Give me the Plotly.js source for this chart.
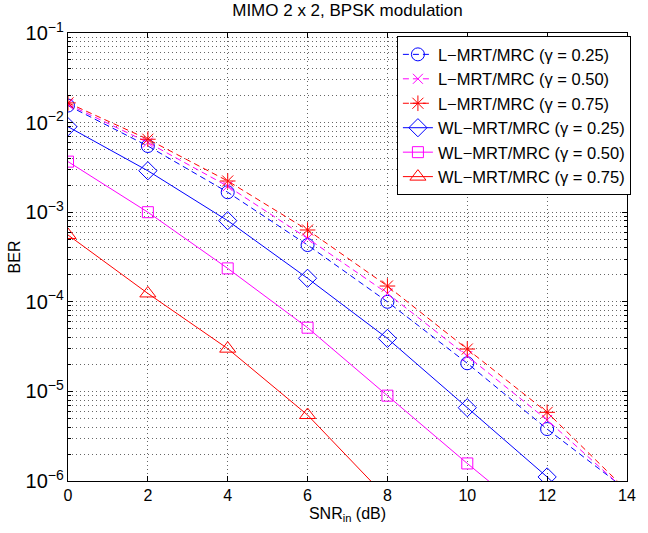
<!DOCTYPE html>
<html>
<head>
<meta charset="utf-8">
<script src="https://cdn.plot.ly/plotly-3.0.1.min.js"></script>
<style>html,body{margin:0;padding:0;background:#fff;}#chart{width:648px;height:533px;}</style>
</head>
<body>
<div id="chart"></div>
<script>
// SNR_in (dB)
var snr = [0, 2, 4, 6, 8, 10, 12, 14];
// BER values (last points fall below the visible range)
var L025  = [1.55e-2, 5.48e-3, 1.67e-3, 4.3e-4, 1.0e-4, 2.06e-5, 3.8e-6, 7.9e-7];
var L050  = [1.60e-2, 6.0e-3, 1.95e-3, 5.1e-4, 1.24e-4, 2.48e-5, 4.8e-6, 7.6e-7];
var L075  = [1.66e-2, 6.52e-3, 2.23e-3, 6.33e-4, 1.5e-4, 2.97e-5, 5.84e-6, 7.8e-7];
var WL025 = [9.0e-3, 2.9e-3, 8.04e-4, 1.83e-4, 3.9e-5, 6.58e-6, 1.11e-6, 1.6e-7];
var WL050 = [3.67e-3, 1.0e-3, 2.36e-4, 5.14e-5, 8.96e-6, 1.57e-6, 2.9e-7, 4.5e-8];
var WL075 = [5.57e-4, 1.24e-4, 3.0e-5, 5.45e-6, 6.4e-7, 1.0e-7, 1.4e-8, 1.8e-9];
var names = [
  'L\u2212MRT/MRC (\u03b3 = 0.25)',
  'L\u2212MRT/MRC (\u03b3 = 0.50)',
  'L\u2212MRT/MRC (\u03b3 = 0.75)',
  'WL\u2212MRT/MRC (\u03b3 = 0.25)',
  'WL\u2212MRT/MRC (\u03b3 = 0.50)',
  'WL\u2212MRT/MRC (\u03b3 = 0.75)'
];
var titleText = 'MIMO 2 x 2, BPSK modulation';
var xTitle = 'SNR<sub>in</sub> (dB)';
var yTitle = 'BER';

var BLUE = 'rgb(0,0,255)', MAG = 'rgb(255,0,255)', RED = 'rgb(255,0,0)';
function tr(y, name, color, dash, sym, size) {
  return {
    x: snr, y: y, name: name, type: 'scatter', mode: 'lines+markers',
    line: {color: color, width: 1, dash: dash},
    marker: {symbol: sym, size: size, color: color, line: {color: color, width: 1}}
  };
}
var D = '6px,4px';
var data = [
  tr(L025, names[0], BLUE, D, 'circle-open', 13),
  tr(L050, names[1], MAG, D, 'x-thin-open', 10),
  tr(L075, names[2], RED, D, 'asterisk-open', 13),
  tr(WL025, names[3], BLUE, 'solid', 'diamond-open', 14),
  tr(WL050, names[4], MAG, 'solid', 'square-open', 11),
  tr(WL075, names[5], RED, 'solid', 'triangle-up-open', 14)
];
var F = 'Liberation Sans, Arial, Helvetica, sans-serif';
var GD = '1px,3px';
var GC = 'rgba(0,0,0,0.6)';
var layout = {
  width: 648, height: 533,
  margin: {l: 68, r: 21, t: 33, b: 52},
  paper_bgcolor: '#fff', plot_bgcolor: '#fff',
  font: {family: F, size: 16, color: '#000'},
  title: {text: titleText, font: {family: F, size: 17, color: '#000'}, x: 0.5, xref: 'paper', xanchor: 'center', y: 1 - 4/533, yref: 'container', yanchor: 'top'},
  showlegend: true,
  legend: {x: 1.007, xanchor: 'right', y: 0.993, yanchor: 'top', bgcolor: '#fff', bordercolor: '#000', borderwidth: 1,
           font: {family: F, size: 16.5, color: '#000'}, tracegroupgap: 0},
  xaxis: {
    range: [0, 14], dtick: 2, tick0: 0, showline: true, linecolor: '#000', linewidth: 1, mirror: 'ticks',
    ticks: 'inside', ticklen: 5, tickcolor: '#000', zeroline: false,
    showgrid: true, gridcolor: GC, griddash: GD, gridwidth: 1,
    tickfont: {family: F, size: 16, color: '#000'},
    title: {text: xTitle, font: {family: F, size: 16, color: '#000'}, standoff: 4}
  },
  yaxis: {
    type: 'log', range: [-6, -1], dtick: 1, exponentformat: 'power',
    showline: true, linecolor: '#000', linewidth: 1, mirror: 'ticks',
    ticks: 'inside', ticklen: 5, tickcolor: '#000', zeroline: false,
    showgrid: true, gridcolor: GC, griddash: GD, gridwidth: 1,
    minor: {dtick: 'D1', ticks: 'inside', ticklen: 3, tickcolor: '#000', showgrid: true, gridcolor: GC, griddash: GD, gridwidth: 1},
    tickfont: {family: F, size: 16, color: '#000'},
    title: {text: yTitle, font: {family: F, size: 16, color: '#000'}, standoff: 0}
  }
};
Plotly.newPlot('chart', data, layout, {displayModeBar: false, staticPlot: true});
</script>
</body>
</html>
